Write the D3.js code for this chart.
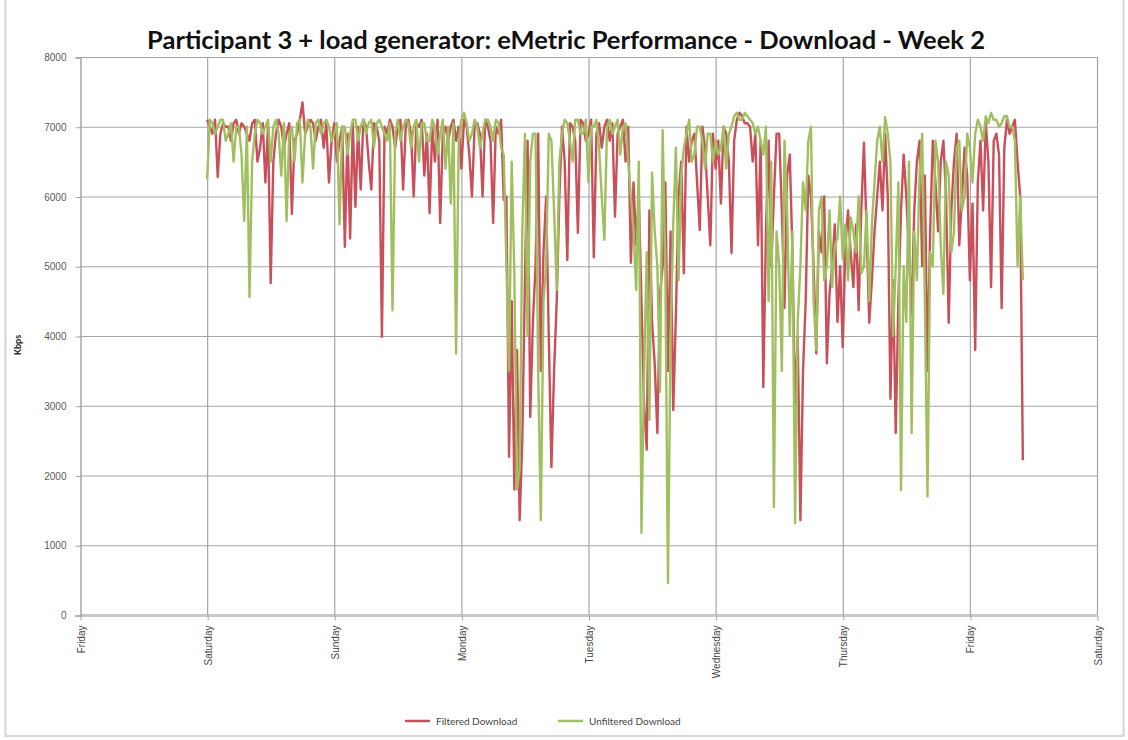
<!DOCTYPE html>
<html>
<head>
<meta charset="utf-8">
<script src="https://cdn.jsdelivr.net/npm/d3@7"></script>
<style>
  body { margin: 0; background: #fff; }
  svg { font-family: Lato, "Open Sans", sans-serif; }
</style>
</head>
<body>
<svg width="1128" height="740"></svg>
<script>
// chart values (one value per half hour, starting Saturday 00:00)
var dayLabels = ["Friday", "Saturday", "Sunday", "Monday", "Tuesday", "Wednesday", "Thursday", "Friday", "Saturday"];
var yTicks = [0, 1000, 2000, 3000, 4000, 5000, 6000, 7000, 8000];
var startDay = 1;
var perDay = 48;

var filtered = [
  // Saturday
  7100,7000, 6900,7100, 6280,6900, 7050,7000, 7000,6800, 7050,7100, 6900,7050, 7000,6900,
  6800,7050, 7100,6500, 6700,7050, 6200,7000, 4760,6500, 6900,7100, 7000,6700, 6900,7050,
  5750,6800, 6900,7100, 7350,6900, 7000,7100, 7050,6800, 7000,7100, 6700,7050, 6200,6800,
  // Sunday
  7050,6500, 6800,7000, 5280,6900, 5400,7050, 5850,7000, 6100,7100, 7000,6500, 6100,7050,
  7000,6800, 3990,7000, 6900,7100, 7000,6700, 7000,7100, 6100,7000, 7100,6900, 6000,7050,
  7000,7100, 6300,6900, 5760,7000, 6500,7100, 5620,6900, 7000,6800, 7000,7100, 6800,7000,
  // Monday
  6400,7100, 7000,6600, 6000,7000, 7050,6900, 6000,7100, 7000,6800, 5620,7000, 6900,7100,
  5950,6000, 2270,4500, 1800,3800, 1360,2500, 4800,6800, 2840,4200, 5000,6900, 3500,5200,
  6000,4000, 2120,3500, 4500,6000, 7000,6500, 5090,7050, 7000,6800, 5480,7100, 7050,6800,
  // Tuesday
  6900,7100, 5130,6900, 7050,6700, 7000,7100, 6800,7050, 5710,6900, 7000,7100, 6500,7000,
  5050,6200, 5300,6000, 4500,3000, 2370,5800, 4200,3600, 2610,4600, 5000,6200, 3500,5500,
  2940,4300, 6000,6500, 4900,7000, 6500,6800, 6900,6200, 5520,7000, 6700,6000, 5300,6900,
  // Wednesday
  6400,6800, 5900,7000, 6900,6500, 5190,6800, 7100,7200, 7150,7050, 7050,7000, 6500,6900,
  5300,6800, 3270,5500, 6800,5000, 6000,6900, 6900,5800, 4400,6300, 6600,5200, 3000,4000,
  1360,3500, 4500,6300, 6000,5000, 3750,5500, 5200,6000, 3610,4600, 5000,5600, 4200,5000,
  // Thursday
  3840,5300, 5800,5200, 4700,5600, 4370,5800, 6770,5500, 4190,4800, 5500,6000, 6500,5800,
  6900,6000, 3100,4800, 2610,4500, 5800,6600, 6000,5200, 4300,5800, 6500,6800, 5000,6300,
  3500,5500, 6800,6200, 5500,6500, 6800,6000, 4190,5800, 6500,6900, 5300,6000, 6700,6300,
  // Friday
  4800,5900, 3800,6200, 6800,5800, 7050,6500, 4700,6800, 6900,6600, 4400,6700, 7100,6900,
  7000,7100, 6500,6000, 2220
];

var unfiltered = [
  // Saturday
  6250,7100, 7050,6900, 7000,7100, 7100,6800, 6900,7050, 6500,7000, 7000,6600, 5650,7000,
  4560,6500, 6900,7100, 7050,6900, 7000,7100, 6500,7000, 7100,6900, 6300,7050, 5650,6900,
  7000,6500, 7050,7100, 6200,6900, 7100,7000, 6400,7050, 7100,6900, 7050,7100, 7000,6800,
  // Sunday
  6900,7050, 5600,7000, 7000,6600, 6900,7100, 7100,6800, 7000,7100, 6900,7050, 7100,6700,
  7050,7100, 7000,6900, 6800,7050, 4370,6900, 7100,6800, 7000,7100, 7050,6700, 7000,7100,
  6500,7050, 7050,6800, 6800,7100, 7000,6600, 6900,7100, 6400,7000, 5900,7050, 3750,6800,
  // Monday
  7100,7200, 7050,6800, 6900,7100, 7000,6700, 6900,7100, 7100,7000, 6800,7100, 7050,6700,
  6600,5000, 3500,6500, 4900,1800, 2100,5500, 6900,4000, 6500,6900, 6900,3500, 1360,4500,
  5000,6900, 6800,5800, 4660,6500, 6900,7100, 7050,6800, 6500,7100, 7100,6900, 6900,7100,
  // Tuesday
  6200,7000, 7000,7100, 6700,6000, 5380,7000, 7100,6900, 7000,7100, 6600,7000, 7050,6500,
  6000,5500, 4660,6500, 1180,3500, 5200,2800, 6340,5500, 5000,3200, 6950,5000, 460,4000,
  5600,6700, 4800,6300, 6700,6900, 7100,6500, 6600,7000, 7000,6800, 6400,6900, 6900,6500,
  // Wednesday
  6800,6600, 6700,7000, 6400,6900, 7000,7150, 7200,7100, 7100,7200, 7150,7100, 7050,6900,
  7000,6800, 6600,7000, 4500,6500, 1550,5500, 5000,3500, 6800,5800, 4000,5500, 1320,4200,
  5000,6200, 5800,6800, 7000,4500, 3800,5800, 6000,4800, 5000,5800, 4700,5300, 5400,6000,
  // Thursday
  5100,5600, 4800,5700, 5500,5200, 6000,4900, 5000,5800, 4500,5600, 6200,6800, 7000,6500,
  7140,6900, 6500,4000, 5000,6200, 1790,5000, 4200,6500, 2610,5500, 4800,6300, 6900,4500,
  1700,5200, 5000,6800, 6500,5300, 4600,6500, 6300,5200, 5500,6700, 6800,5800, 6000,6900,
  // Friday
  6700,6200, 6900,7100, 7000,6800, 7150,7050, 7200,7100, 7100,7000, 7050,7150, 7150,7000,
  7000,6800, 5000,6000, 4800
];

var series = [
  { name: "Filtered Download", color: "#c94f5a", values: filtered },
  { name: "Unfiltered Download", color: "#a0c060", values: unfiltered }
];

var svg = d3.select("svg");

// chart area frame
svg.append("rect")
    .attr("x", 5.5).attr("y", -3)
    .attr("width", 1118).attr("height", 739)
    .attr("fill", "none")
    .attr("stroke", "#d4d4d4")
    .attr("stroke-width", 2);

var x = d3.scaleLinear().domain([0, 8]).range([80, 1097]);
var y = d3.scaleLinear().domain([0, 8000]).range([615, 57]);

// gridlines
svg.append("g")
  .selectAll("line")
  .data(yTicks)
  .enter().append("line")
    .attr("x1", x(0)).attr("x2", x(8))
    .attr("y1", function(d) { return y(d) + 0.5; })
    .attr("y2", function(d) { return y(d) + 0.5; })
    .attr("stroke", function(d) { return d == 0 ? "#c8c8c8" : "#a6a6a6"; })
    .attr("stroke-width", function(d) { return d == 0 ? 3 : 1.2; });

svg.append("g")
  .selectAll("line")
  .data(d3.range(1, 9))
  .enter().append("line")
    .attr("x1", function(d) { return x(d) + 0.5; })
    .attr("x2", function(d) { return x(d) + 0.5; })
    .attr("y1", y(8000)).attr("y2", y(0))
    .attr("stroke", "#a6a6a6")
    .attr("stroke-width", 1.2);

// y axis
var yAxis = svg.append("g")
    .attr("transform", "translate(" + (x(0) + 0.5) + ",0.5)")
    .call(d3.axisLeft(y).tickValues(yTicks).tickSize(5).tickPadding(9).tickFormat(d3.format("d")));
yAxis.select(".domain").attr("stroke", "#a6a6a6").attr("stroke-width", 1.5);
yAxis.selectAll(".tick line").attr("stroke", "#a6a6a6");
yAxis.selectAll("text").attr("fill", "#595959").attr("font-size", 10);

svg.append("text")
    .attr("transform", "translate(21,345) rotate(-90)")
    .attr("text-anchor", "middle")
    .attr("font-size", 9)
    .attr("font-weight", "bold")
    .attr("fill", "#222")
    .text("Kbps");

// x axis, day labels rotated
var xAxis = svg.append("g")
    .attr("transform", "translate(0.5," + (y(0) + 0.5) + ")")
    .call(d3.axisBottom(x).tickValues(d3.range(0, 9)).tickSize(5)
      .tickFormat(function(d) { return dayLabels[d]; }));
xAxis.select(".domain").remove();
xAxis.selectAll(".tick line").attr("stroke", "#a6a6a6");
xAxis.selectAll("text")
    .attr("transform", "rotate(-90)")
    .attr("text-anchor", "end")
    .attr("x", -10)
    .attr("y", 0)
    .attr("dy", "0.35em")
    .attr("fill", "#444")
    .attr("font-size", 10);

// lines
var line = d3.line()
    .x(function(d, i) { return x(startDay + i / perDay); })
    .y(function(d) { return y(d); });

svg.append("g")
  .selectAll("path")
  .data(series)
  .enter().append("path")
    .attr("d", function(d) { return line(d.values); })
    .attr("fill", "none")
    .attr("stroke", function(d) { return d.color; })
    .attr("stroke-width", 2.4)
    .attr("stroke-linejoin", "round");

// title
svg.append("text")
    .attr("x", 566)
    .attr("y", 49)
    .attr("text-anchor", "middle")
    .attr("font-size", 25.5)
    .attr("font-weight", "bold")
    .attr("fill", "#111")
    .text("Participant 3 + load generator: eMetric Performance - Download - Week 2");

// legend
var legend = svg.append("g")
  .selectAll("g")
  .data(series)
  .enter().append("g")
    .attr("transform", function(d, i) { return "translate(" + (405 + i * 153) + ",721)"; });

legend.append("line")
    .attr("x1", 0).attr("x2", 25)
    .attr("stroke", function(d) { return d.color; })
    .attr("stroke-width", 2.5);

legend.append("text")
    .attr("x", 31)
    .attr("dy", "0.35em")
    .attr("font-size", 10)
    .attr("fill", "#444")
    .text(function(d) { return d.name; });
</script>
</body>
</html>
